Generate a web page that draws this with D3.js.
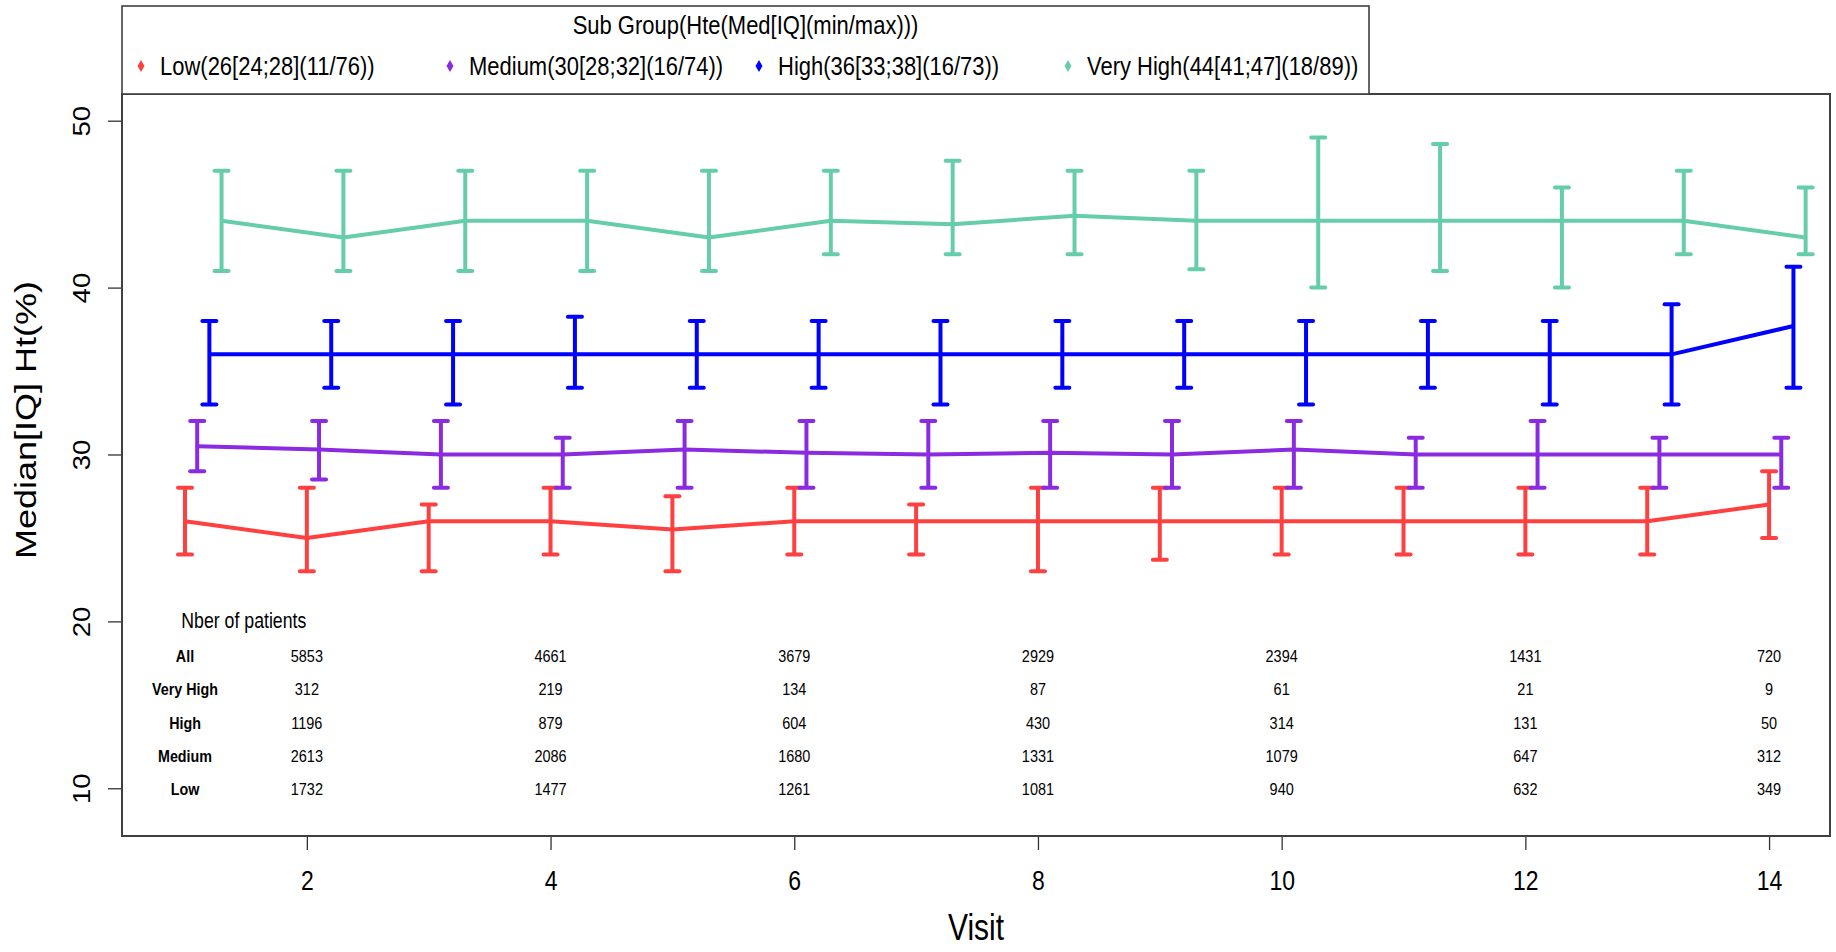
<!DOCTYPE html>
<html>
<head>
<meta charset="UTF-8">
<title>Median Ht by visit</title>
<script src="https://cdn.jsdelivr.net/npm/d3@7"></script>
<style>
body { margin: 0; background: #fff; }
svg { font-family: "Liberation Sans", Arial, sans-serif; display: block; }
</style>
</head>
<body>
<svg width="1836" height="952"></svg>
<script>
// ---- data ----
var visits = [1, 2, 3, 4, 5, 6, 7, 8, 9, 10, 11, 12, 13, 14];

var lowMed = [26, 25, 26, 26, 25.5, 26, 26, 26, 26, 26, 26, 26, 26, 27];
var lowQ1  = [24, 23, 23, 24, 23, 24, 24, 23, 23.7, 24, 24, 24, 24, 25];
var lowQ3  = [28, 28, 27, 28, 27.5, 28, 27, 28, 28, 28, 28, 28, 28, 29];

var medMed = [30.5, 30.3, 30, 30, 30.3, 30.1, 30, 30.1, 30, 30.3, 30, 30, 30, 30];
var medQ1  = [29, 28.5, 28, 28, 28, 28, 28, 28, 28, 28, 28, 28, 28, 28];
var medQ3  = [32, 32, 32, 31, 32, 32, 32, 32, 32, 32, 31, 32, 31, 31];

var highMed = [36, 36, 36, 36, 36, 36, 36, 36, 36, 36, 36, 36, 36, 37.7];
var highQ1  = [33, 34, 33, 34, 34, 34, 33, 34, 34, 33, 34, 33, 33, 34];
var highQ3  = [38, 38, 38, 38.25, 38, 38, 38, 38, 38, 38, 38, 38, 39, 41.25];

var vhMed = [44, 43, 44, 44, 43, 44, 43.8, 44.3, 44, 44, 44, 44, 44, 43];
var vhQ1  = [41, 41, 41, 41, 41, 42, 42, 42, 41.1, 40, 41, 40, 42, 42];
var vhQ3  = [47, 47, 47, 47, 47, 47, 47.6, 47, 47, 49, 48.6, 46, 47, 46];

var legendLabels = ["Low(26[24;28](11/76))", "Medium(30[28;32](16/74))",
                    "High(36[33;38](16/73))", "Very High(44[41;47](18/89))"];
var colors = ["#FF4040", "#8A2BE2", "#0000FF", "#66CDAA"];
var dodge = [0, 0.1, 0.2, 0.3];

var xTicks = [2, 4, 6, 8, 10, 12, 14];
var yTicks = [10, 20, 30, 40, 50];

// patients table
var tableVisits = [2, 4, 6, 8, 10, 12, 14];
var tableRows = ["All", "Very High", "High", "Medium", "Low"];
var nAll      = [5853, 4661, 3679, 2929, 2394, 1431, 720];
var nVeryHigh = [312, 219, 134, 87, 61, 21, 9];
var nHigh     = [1196, 879, 604, 430, 314, 131, 50];
var nMedium   = [2613, 2086, 1680, 1331, 1079, 647, 312];
var nLow      = [1732, 1477, 1261, 1081, 940, 632, 349];

// ---- layout ----
var svg = d3.select("svg");
var box = {left: 122, right: 1830, top: 94, bottom: 836};
var stretch = 1.2;   // text in the original looks tall and narrow

var x = d3.scaleLinear().domain([0.483, 14.5]).range([box.left, box.right]);
var y = d3.scaleLinear().domain([7.14, 51.6]).range([box.bottom, box.top]);

// plain horizontal text, stretched vertically
function htext(g, px, py, str, size, anchor, weight) {
  return g.append("text")
    .attr("transform", "translate(" + px + "," + py + ") scale(1," + stretch + ")")
    .attr("text-anchor", anchor || "middle")
    .style("font-size", size + "px")
    .style("font-weight", weight || "normal")
    .attr("fill", "#000")
    .text(str);
}

var series = [
  {med: lowMed, q1: lowQ1, q3: lowQ3},
  {med: medMed, q1: medQ1, q3: medQ3},
  {med: highMed, q1: highQ1, q3: highQ3},
  {med: vhMed, q1: vhQ1, q3: vhQ3}
];

var line = d3.line()
  .x(function(d) { return x(d.v); })
  .y(function(d) { return y(d.m); });

series.forEach(function(s, k) {
  var pts = visits.map(function(v, i) {
    return {v: v + dodge[k], m: s.med[i], lo: s.q1[i], hi: s.q3[i]};
  });
  var g = svg.append("g").attr("stroke", colors[k]).attr("fill", "none");

  g.append("path")
    .datum(pts)
    .attr("d", line)
    .attr("stroke-width", 4)
    .attr("stroke-linejoin", "round");

  // error bars
  g.selectAll(".bar").data(pts).enter().append("line")
    .attr("x1", function(d) { return x(d.v); })
    .attr("x2", function(d) { return x(d.v); })
    .attr("y1", function(d) { return y(d.lo); })
    .attr("y2", function(d) { return y(d.hi); })
    .attr("stroke-width", 4);

  ["lo", "hi"].forEach(function(key) {
    g.selectAll(".cap-" + key).data(pts).enter().append("line")
      .attr("x1", function(d) { return x(d.v) - 7; })
      .attr("x2", function(d) { return x(d.v) + 7; })
      .attr("y1", function(d) { return y(d[key]); })
      .attr("y2", function(d) { return y(d[key]); })
      .attr("stroke-width", 4)
      .attr("stroke-linecap", "round");
  });
});

// ---- axes ----
var xAxis = svg.append("g")
  .attr("transform", "translate(0," + box.bottom + ")")
  .call(d3.axisBottom(x).tickValues(xTicks).tickSize(14).tickSizeOuter(0));
xAxis.select(".domain").remove();
xAxis.selectAll(".tick line").attr("stroke", "#333").attr("stroke-width", 1.3);
xAxis.selectAll(".tick text")
  .attr("y", null).attr("dy", null)
  .attr("transform", "translate(0,54) scale(1," + stretch + ")")
  .attr("fill", "#000")
  .style("font-size", "23px");

var yAxis = svg.append("g")
  .attr("transform", "translate(" + box.left + ",0)")
  .call(d3.axisLeft(y).tickValues(yTicks).tickSize(14).tickSizeOuter(0));
yAxis.select(".domain").remove();
yAxis.selectAll(".tick line").attr("stroke", "#333").attr("stroke-width", 1.3);
yAxis.selectAll(".tick text")
  .attr("x", null).attr("dy", null)
  .attr("text-anchor", "middle")
  .attr("transform", "translate(-32,0) scale(1," + stretch + ") rotate(-90)")
  .attr("fill", "#000")
  .style("font-size", "23px");

// plot frame
svg.append("rect")
  .attr("x", box.left).attr("y", box.top)
  .attr("width", box.right - box.left).attr("height", box.bottom - box.top)
  .attr("fill", "none").attr("stroke", "#404040").attr("stroke-width", 2);

// axis titles
htext(svg, (box.left + box.right) / 2, 940, "Visit", 30);
svg.append("text")
  .attr("transform", "translate(36,420) scale(1," + stretch + ") rotate(-90)")
  .attr("text-anchor", "middle")
  .style("font-size", "30px")
  .attr("fill", "#000")
  .text("Median[IQ] Ht(%)");

// ---- patients table ----
var tg = svg.append("g");
htext(tg, x(0.97), y(20) + 7, "Nber of patients", 17.7, "start");
var tableData = [nAll, nVeryHigh, nHigh, nMedium, nLow];
var rowLevels = [18, 16, 14, 12, 10];
tableRows.forEach(function(name, r) {
  var py = y(rowLevels[r]) + 7;
  htext(tg, x(1), py, name, 14.3, "middle", "bold");
  tableVisits.forEach(function(v, i) {
    htext(tg, x(v), py, tableData[r][i], 14.5, "middle");
  });
});

// ---- legend ----
var legend = svg.append("g");
legend.append("rect")
  .attr("x", box.left).attr("y", 6)
  .attr("width", 1369 - box.left).attr("height", box.top - 6)
  .attr("fill", "#fff").attr("stroke", "#404040").attr("stroke-width", 1.6);
htext(legend, (box.left + 1369) / 2, 34, "Sub Group(Hte(Med[IQ](min/max)))", 22);

legendLabels.forEach(function(lab, i) {
  var lx = box.left + 19 + i * 309;
  legend.append("path")
    .attr("d", d3.symbol().type(d3.symbolDiamond).size(42))
    .attr("transform", "translate(" + lx + ",66)")
    .attr("fill", colors[i]);
  htext(legend, lx + 19, 75, lab, 22, "start");
});
</script>
</body>
</html>
